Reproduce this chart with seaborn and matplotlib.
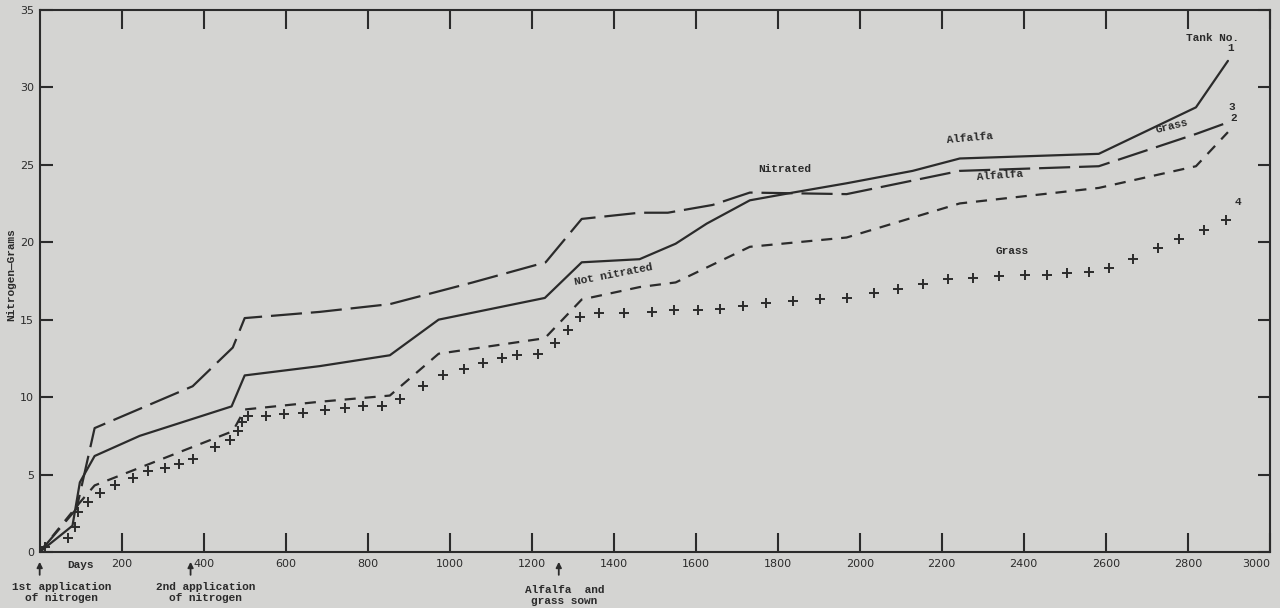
"""
plot.py

Cumulative nitrogen recovered (grams) from four soil tanks over ~2900 days,
redrawn from an old scanned lysimeter figure.
"""

import pandas as pd
import numpy as np
import seaborn as sns
import matplotlib.pyplot as plt

# -----------------------------
# Data
# -----------------------------
# Tank 1: nitrated, alfalfa (solid)
tank1_days = [0, 80, 98, 134, 244, 468, 500, 683, 854, 973, 1232, 1322, 1463,
              1551, 1627, 1732, 1837, 1968, 2129, 2244, 2583, 2820, 2898]
tank1_n = [0, 1.7, 4.5, 6.2, 7.5, 9.4, 11.4, 12.0, 12.7, 15.0, 16.4, 18.7, 18.9,
           19.9, 21.2, 22.7, 23.2, 23.8, 24.6, 25.4, 25.7, 28.7, 31.7]

# Tank 2: not nitrated, alfalfa (short dashes)
tank2_days = [0, 98, 134, 471, 500, 683, 854, 973, 1232, 1322, 1463, 1551,
              1732, 1968, 2244, 2583, 2820, 2898]
tank2_n = [0, 3.2, 4.3, 7.8, 9.2, 9.7, 10.1, 12.8, 13.8, 16.3, 17.1, 17.4,
           19.7, 20.3, 22.5, 23.5, 24.9, 27.1]

# Tank 3: nitrated, grass (long dashes)
tank3_days = [0, 90, 134, 373, 471, 500, 683, 854, 1056, 1234, 1322, 1463,
              1532, 1641, 1732, 1968, 2244, 2583, 2822, 2895]
tank3_n = [0, 2.8, 8.0, 10.7, 13.2, 15.1, 15.5, 16.0, 17.4, 18.7, 21.5, 21.9,
           21.9, 22.4, 23.2, 23.1, 24.6, 24.9, 27.0, 27.7]

# Tank 4: not nitrated, grass (crosses only)
tank4_days = [12, 68, 85, 93, 117, 146, 183, 227, 263, 305, 341, 373, 427, 463,
              483, 493, 507, 553, 597, 641, 695, 744, 788, 834, 878, 934, 983,
              1034, 1080, 1127, 1163, 1215, 1256, 1288, 1317, 1363, 1424, 1493,
              1546, 1605, 1659, 1715, 1771, 1837, 1902, 1968, 2034, 2093, 2154,
              2215, 2276, 2339, 2402, 2456, 2505, 2558, 2607, 2666, 2727, 2778,
              2839, 2893]
tank4_n = [0.3, 0.9, 1.6, 2.6, 3.2, 3.8, 4.3, 4.8, 5.2, 5.4, 5.7, 6.0, 6.8, 7.2,
           7.8, 8.4, 8.8, 8.8, 8.9, 9.0, 9.2, 9.3, 9.4, 9.4, 9.9, 10.7, 11.4,
           11.8, 12.2, 12.5, 12.7, 12.8, 13.5, 14.3, 15.2, 15.4, 15.4, 15.5,
           15.6, 15.6, 15.7, 15.9, 16.1, 16.2, 16.3, 16.4, 16.7, 17.0, 17.3,
           17.6, 17.7, 17.8, 17.9, 17.9, 18.0, 18.1, 18.3, 18.9, 19.6, 20.2,
           20.8, 21.4]

x_ticks = [200, 400, 600, 800, 1000, 1200, 1400, 1600, 1800, 2000, 2200, 2400,
           2600, 2800, 3000]
y_ticks = [0, 5, 10, 15, 20, 25, 30, 35]

lines = pd.concat([
    pd.DataFrame({"days": tank1_days, "n": tank1_n, "tank": "1"}),
    pd.DataFrame({"days": tank2_days, "n": tank2_n, "tank": "2"}),
    pd.DataFrame({"days": tank3_days, "n": tank3_n, "tank": "3"}),
])
crosses = pd.DataFrame({"days": tank4_days, "n": tank4_n})

# -----------------------------
# Styling
# -----------------------------
paper = "#d4d4d2"
ink = "#2b2b2b"
mono = ["Liberation Mono", "DejaVu Sans Mono"]

sns.set_theme(style="ticks")
plt.rcParams["font.family"] = ["DejaVu Sans"]

fig = plt.figure(figsize=(12.8, 6.08), dpi=100, facecolor=paper)
ax = fig.add_axes([0.031, 0.092, 0.961, 0.892])
ax.set_facecolor(paper)

sns.lineplot(
    data=lines, x="days", y="n", style="tank", ax=ax,
    color=ink, linewidth=1.6, sort=False, estimator=None,
    dashes={"1": "", "2": (5, 4), "3": (14, 4)}, legend=False,
)
sns.scatterplot(
    data=crosses, x="days", y="n", ax=ax, marker="+", s=55,
    color=ink, linewidth=1.4, legend=False,
)

ax.set_xlim(0, 3000)
ax.set_ylim(0, 35)
ax.set_xticks(x_ticks)
ax.set_yticks(y_ticks)
ax.set_xlabel("")
ax.set_ylabel("")
for s in ax.spines.values():
    s.set_color(ink)
    s.set_linewidth(1.5)
ax.tick_params(axis="x", direction="in", length=14, width=1.5, color=ink,
               top=True, labeltop=False, labelsize=8, labelcolor=ink, pad=5)
ax.tick_params(axis="y", direction="in", length=9, width=1.5, color=ink,
               right=True, labelright=False, labelsize=8, labelcolor=ink, pad=4)
# last label would run off the right edge
ax.get_xticklabels()[-1].set_horizontalalignment("right")

# -----------------------------
# Text on the chart
# -----------------------------
txt = dict(family=mono, fontweight="bold", fontsize=8, color=ink)

ax.text(2861, 33.2, "Tank No.", ha="center", va="center", **txt)
ax.text(2905, 32.5, "1", ha="center", va="center", **txt)
ax.text(2907, 28.7, "3", ha="center", va="center", **txt)
ax.text(2912, 28.0, "2", ha="center", va="center", **txt)
ax.text(2922, 22.6, "4", ha="center", va="center", **txt)

ax.text(2268, 26.7, "Alfalfa", ha="center", va="center", rotation=5, **txt)
ax.text(2761, 27.5, "Grass", ha="center", va="center", rotation=14, **txt)
ax.text(1817, 24.7, "Nitrated", ha="center", va="center", **txt)
ax.text(1400, 17.9, "Not nitrated", ha="center", va="center", rotation=11, **txt)
ax.text(2341, 24.3, "Alfalfa", ha="center", va="center", rotation=4, **txt)
ax.text(2371, 19.4, "Grass", ha="center", va="center", **txt)

# below the axis: events
ax.text(68, -0.85, "Days", ha="left", va="center", clip_on=False, **txt)
arrow = dict(arrowstyle="-|>", color=ink, lw=1.3, mutation_scale=8)
for d in [0, 368, 1266]:
    ax.annotate("", xy=(d, -0.45), xytext=(d, -1.65),
                arrowprops=arrow, annotation_clip=False)
ax.text(54, -2.6, "1st application\nof nitrogen", ha="center", va="center",
        linespacing=1.1, clip_on=False, **txt)
ax.text(405, -2.6, "2nd application\nof nitrogen", ha="center", va="center",
        linespacing=1.1, clip_on=False, **txt)
ax.text(1280, -2.8, "Alfalfa  and\ngrass sown", ha="center", va="center",
        linespacing=1.1, clip_on=False, **txt)

fig.text(0.009, 0.548, "Nitrogen\u2014Grams", rotation=90, ha="center",
         va="center", **txt)

fig.savefig("out.png", dpi=100, facecolor=paper)
